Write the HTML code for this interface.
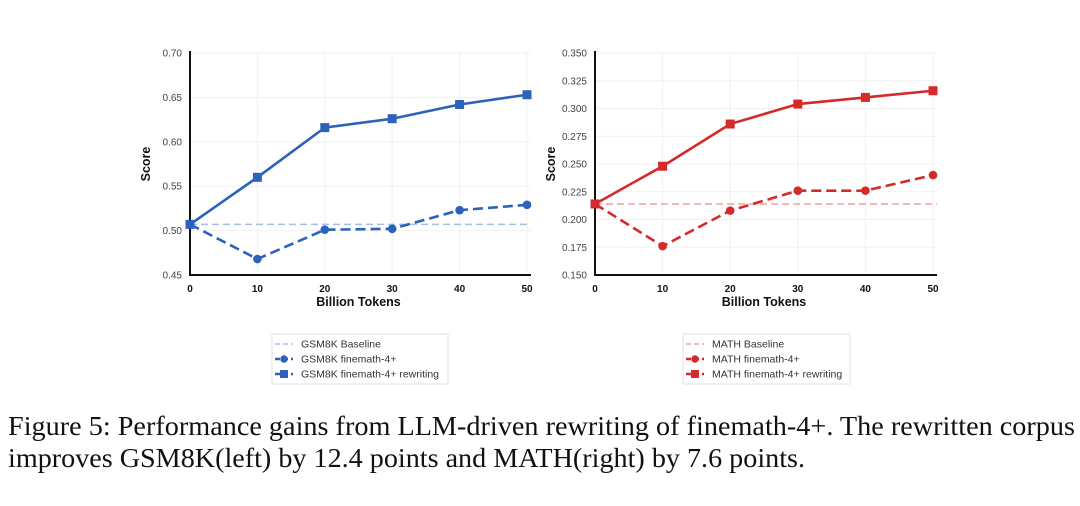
<!DOCTYPE html>
<html><head><meta charset="utf-8">
<style>
html,body{margin:0;padding:0;background:#fff;}
svg{display:block;}
text{font-family:"Liberation Sans",Arial,sans-serif;}
.cap{font-family:"Liberation Serif","Times New Roman",serif;font-size:27.5px;fill:#111;}
</style></head>
<body>
<svg id="fig" width="1080" height="506" viewBox="0 0 1080 506" xmlns="http://www.w3.org/2000/svg">
<text class="cap" x="8" y="435" textLength="1067" lengthAdjust="spacingAndGlyphs">Figure 5:  Performance gains from LLM-driven rewriting of finemath-4+.  The rewritten corpus</text>
<text class="cap" x="8" y="467" textLength="797" lengthAdjust="spacingAndGlyphs">improves GSM8K(left) by 12.4 points and MATH(right) by 7.6 points.</text>
</svg>
<script>
const xCats = [0,10,20,30,40,50];
const gsmRewrite = [0.507,0.560,0.616,0.626,0.642,0.653];
const gsmFinemath = [0.507,0.468,0.501,0.502,0.523,0.529];
const gsmBaseline = 0.507;
const gsmTicks = [0.45,0.50,0.55,0.60,0.65,0.70];
const gsmTickLabels = ["0.45","0.50","0.55","0.60","0.65","0.70"];
const mathRewrite = [0.214,0.248,0.286,0.304,0.310,0.316];
const mathFinemath = [0.214,0.176,0.208,0.226,0.226,0.240];
const mathBaseline = 0.214;
const mathTicks = [0.150,0.175,0.200,0.225,0.250,0.275,0.300,0.325,0.350];
const mathTickLabels = ["0.150","0.175","0.200","0.225","0.250","0.275","0.300","0.325","0.350"];
const gsmLegend = ["GSM8K Baseline","GSM8K finemath-4+","GSM8K finemath-4+ rewriting"];
const mathLegend = ["MATH Baseline","MATH finemath-4+","MATH finemath-4+ rewriting"];

const NS="http://www.w3.org/2000/svg";
const svg=document.getElementById('fig');
function mk(tag,attrs,parent){const e=document.createElementNS(NS,tag);for(const k in attrs)e.setAttribute(k,attrs[k]);(parent||svg).appendChild(e);return e;}

function chart(o){
  const g=mk('g',{});
  
  
  const x0=o.left,x1=o.right,yTop=53,yBot=275;
  const ymin=o.ticks[0],ymax=o.ticks[o.ticks.length-1];
  const sx=v=>x0+(v-xCats[0])/(xCats[xCats.length-1]-xCats[0])*(x1-x0);
  const sy=v=>yBot-(v-ymin)/(ymax-ymin)*(yBot-yTop);
  o.ticks.forEach((t,i)=>{
    const l=mk('line',{x1:x0,x2:x1+4,y1:sy(t),y2:sy(t),stroke:'#f0f0f0','stroke-width':1},g);
    
    
    const tx=mk('text',{x:x0-8,y:sy(t)+3.5,'text-anchor':'end','font-size':10,fill:'#444'},g);
    
    
    tx.textContent=o.labels[i];
  });
  xCats.forEach(c=>{
    const l=mk('line',{x1:sx(c),x2:sx(c),y1:yTop,y2:yBot,stroke:'#f0f0f0','stroke-width':1},g);
    
    
    const tx=mk('text',{x:sx(c),y:yBot+17,'text-anchor':'middle','font-size':10,'font-weight':'bold',fill:'#111'},g);
    
    
    tx.textContent=c;
  });
  const ax=mk('path',{d:`M${x0} ${yTop-2} V${yBot} H${x1+4}`,fill:'none',stroke:'#111','stroke-width':2},g);
  
  
  const xt=mk('text',{x:(x0+x1)/2,y:yBot+31,'text-anchor':'middle','font-size':12.5,'font-weight':'bold',fill:'#111'},g);
  
  
  xt.textContent='Billion Tokens';
  const yt=mk('text',{x:0,y:0,'text-anchor':'middle','font-size':12.5,'font-weight':'bold',fill:'#111',transform:`translate(${x0-40},${(yTop+yBot)/2}) rotate(-90)`},g);
  
  
  yt.textContent='Score';
  const bl=mk('line',{x1:x0,x2:x1+4,y1:sy(o.base),y2:sy(o.base),stroke:o.light,'stroke-width':1.5,'stroke-dasharray':'7 4'},g);
  
  
  const pf=xCats.map((c,i)=>`${i?'L':'M'}${sx(c)} ${sy(o.fine[i])}`).join(' ');
  const lf=mk('path',{d:pf,fill:'none',stroke:o.color,'stroke-width':2.6,'stroke-dasharray':'10 5'},g);
  
  
  xCats.forEach((c,i)=>{
    const m=mk('circle',{cx:sx(c),cy:sy(o.fine[i]),r:4.3,fill:o.color},g);
    
    
  });
  const pr=xCats.map((c,i)=>`${i?'L':'M'}${sx(c)} ${sy(o.rew[i])}`).join(' ');
  const lr=mk('path',{d:pr,fill:'none',stroke:o.color,'stroke-width':2.6},g);
  
  
  xCats.forEach((c,i)=>{
    const m=mk('rect',{x:sx(c)-4.5,y:sy(o.rew[i])-4.5,width:9,height:9,fill:o.color},g);
    
    
  });
  const lg=mk('g',{},g);
  
  
  const lx=o.legX,ly=334;
  mk('rect',{x:lx,y:ly,width:o.legW,height:50,fill:'#fff',stroke:'#e2e2e2','stroke-width':1},lg);
  o.leg.forEach((t,i)=>{
    const y=ly+10+i*15;
    const e=mk('g',{},lg);
    
    
    if(i===0){mk('line',{x1:lx+3,x2:lx+21,y1:y,y2:y,stroke:o.light,'stroke-width':1.5,'stroke-dasharray':'5 3'},e);}
    else{mk('line',{x1:lx+3,x2:lx+21,y1:y,y2:y,stroke:o.color,'stroke-width':2.6,'stroke-dasharray':'5 3'},e);
      if(i===1)mk('circle',{cx:lx+12,cy:y,r:3.7,fill:o.color},e);
      else mk('rect',{x:lx+8,y:y-4,width:8,height:8,fill:o.color},e);}
    const tx=mk('text',{x:lx+29,y:y+3.5,'font-size':10.5,fill:'#333'},e);
    tx.textContent=t;
  });
}
chart({name:'gsm8k-chart',left:190,right:527,ticks:gsmTicks,labels:gsmTickLabels,fine:gsmFinemath,rew:gsmRewrite,base:gsmBaseline,color:'#2d62bb',light:'#a6bde6',leg:gsmLegend,legX:272,legW:176});
chart({name:'math-chart',left:595,right:933,ticks:mathTicks,labels:mathTickLabels,fine:mathFinemath,rew:mathRewrite,base:mathBaseline,color:'#d42a2a',light:'#ef9f9f',leg:mathLegend,legX:683,legW:167});
</script>
</body></html>
